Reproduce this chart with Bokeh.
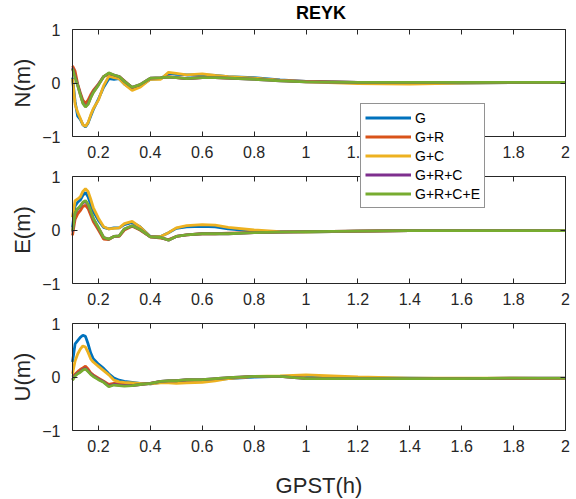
import math
from bokeh.plotting import figure
from bokeh.models import Range1d, LinearAxis, FixedTicker, Label, Legend, LegendItem
from bokeh.embed import file_html
from bokeh.resources import INLINE

# ---------------- data ----------------
time_h = [0.10, 0.11, 0.12, 0.13, 0.14, 0.15, 0.16, 0.17, 0.18, 0.20, 0.22, 0.24,
          0.26, 0.28, 0.30, 0.33, 0.36, 0.40, 0.44, 0.47, 0.50, 0.54, 0.60, 0.65,
          0.70, 0.80, 0.90, 1.00, 1.20, 1.40, 1.60, 1.80, 2.00]

N_G = [0.10, -0.35, -0.62, -0.68, -0.78, -0.82, -0.75, -0.62, -0.50, -0.30, -0.08, 0.08,
       0.07, 0.08, -0.02, -0.12, -0.06, 0.07, 0.08, 0.18, 0.16, 0.15, 0.15, 0.14,
       0.12, 0.10, 0.06, 0.03, 0.01, 0.00, 0.00, 0.01, 0.01]
N_GR = [0.32, 0.22, -0.02, -0.18, -0.32, -0.38, -0.32, -0.22, -0.14, -0.02, 0.12, 0.17,
        0.12, 0.12, 0.04, -0.09, -0.04, 0.08, 0.09, 0.12, 0.10, 0.08, 0.10, 0.10,
        0.09, 0.08, 0.05, 0.03, 0.01, 0.01, 0.01, 0.01, 0.01]
N_GC = [0.08, -0.40, -0.55, -0.66, -0.78, -0.81, -0.74, -0.60, -0.48, -0.32, -0.05, 0.13,
        0.10, 0.08, -0.02, -0.14, -0.08, 0.07, 0.07, 0.20, 0.18, 0.15, 0.17, 0.14,
        0.12, 0.09, 0.05, 0.02, -0.01, -0.02, 0.00, 0.01, 0.01]
N_GRC = [0.28, 0.12, -0.04, -0.21, -0.37, -0.44, -0.39, -0.27, -0.17, -0.03, 0.12, 0.18,
         0.15, 0.12, 0.03, -0.08, -0.03, 0.09, 0.10, 0.11, 0.10, 0.08, 0.10, 0.10,
         0.09, 0.07, 0.04, 0.02, 0.01, 0.01, 0.01, 0.01, 0.01]
N_GRCE = [0.27, 0.10, -0.05, -0.22, -0.38, -0.45, -0.40, -0.28, -0.18, -0.04, 0.12, 0.19,
          0.15, 0.12, 0.03, -0.08, -0.03, 0.09, 0.10, 0.11, 0.10, 0.08, 0.10, 0.10,
          0.09, 0.07, 0.04, 0.02, 0.01, 0.01, 0.01, 0.01, 0.01]

E_G = [0.05, 0.45, 0.52, 0.56, 0.65, 0.70, 0.62, 0.48, 0.35, 0.18, 0.05, 0.02,
       0.04, 0.04, 0.10, 0.14, 0.06, -0.12, -0.12, -0.05, 0.03, 0.06, 0.07, 0.06,
       0.02, -0.02, -0.03, -0.04, -0.02, -0.01, -0.01, -0.01, -0.01]
E_GR = [-0.10, 0.20, 0.30, 0.36, 0.44, 0.46, 0.40, 0.28, 0.16, 0.00, -0.17, -0.18,
        -0.12, -0.12, 0.00, 0.07, 0.00, -0.13, -0.15, -0.18, -0.12, -0.09, -0.07, -0.07,
        -0.06, -0.05, -0.04, -0.03, -0.02, -0.01, -0.01, -0.01, -0.01]
E_GC = [0.24, 0.55, 0.58, 0.62, 0.72, 0.77, 0.72, 0.58, 0.42, 0.22, 0.06, 0.02,
        0.03, 0.04, 0.12, 0.16, 0.06, -0.13, -0.12, -0.05, 0.04, 0.08, 0.10, 0.09,
        0.05, 0.00, -0.03, -0.04, -0.02, -0.01, -0.01, -0.01, -0.01]
E_GRC = [-0.03, 0.31, 0.39, 0.44, 0.51, 0.54, 0.47, 0.35, 0.21, 0.04, -0.14, -0.17,
         -0.12, -0.11, 0.02, 0.08, 0.01, -0.13, -0.14, -0.19, -0.12, -0.09, -0.07, -0.07,
         -0.07, -0.05, -0.04, -0.03, -0.02, -0.01, -0.01, -0.01, -0.01]
E_GRCE = [-0.02, 0.32, 0.40, 0.45, 0.52, 0.55, 0.48, 0.36, 0.22, 0.05, -0.14, -0.17,
          -0.12, -0.11, 0.02, 0.08, 0.01, -0.13, -0.14, -0.19, -0.12, -0.09, -0.07, -0.07,
          -0.07, -0.05, -0.04, -0.03, -0.02, -0.01, -0.01, -0.01, -0.01]

U_G = [0.28, 0.62, 0.68, 0.74, 0.78, 0.76, 0.62, 0.45, 0.34, 0.24, 0.16, 0.06,
       -0.02, -0.06, -0.08, -0.10, -0.12, -0.13, -0.10, -0.08, -0.08, -0.07, -0.06, -0.05,
       -0.03, 0.00, 0.01, 0.00, -0.02, -0.02, -0.03, -0.03, -0.03]
U_GR = [0.00, 0.05, 0.10, 0.14, 0.17, 0.20, 0.15, 0.08, 0.04, -0.02, -0.08, -0.14,
        -0.12, -0.13, -0.14, -0.15, -0.14, -0.12, -0.08, -0.08, -0.07, -0.06, -0.06, -0.04,
        -0.02, 0.01, 0.01, -0.02, -0.03, -0.03, -0.03, -0.03, -0.03]
U_GC = [0.06, 0.30, 0.43, 0.52, 0.58, 0.56, 0.46, 0.34, 0.28, 0.20, 0.12, 0.04,
        -0.06, -0.09, -0.10, -0.11, -0.12, -0.13, -0.11, -0.11, -0.12, -0.11, -0.10, -0.07,
        -0.03, 0.01, 0.02, 0.04, 0.00, -0.02, -0.02, -0.02, -0.03]
U_GRC = [-0.05, 0.03, 0.07, 0.10, 0.14, 0.16, 0.11, 0.06, 0.02, -0.04, -0.09, -0.17,
         -0.14, -0.15, -0.16, -0.16, -0.14, -0.12, -0.08, -0.07, -0.07, -0.05, -0.05, -0.03,
         -0.01, 0.01, 0.01, -0.03, -0.03, -0.03, -0.03, -0.02, -0.02]
U_GRCE = [-0.06, 0.02, 0.06, 0.09, 0.13, 0.15, 0.10, 0.05, 0.01, -0.05, -0.10, -0.18,
          -0.15, -0.16, -0.17, -0.16, -0.14, -0.12, -0.08, -0.07, -0.07, -0.05, -0.05, -0.03,
          -0.01, 0.01, 0.01, -0.03, -0.03, -0.03, -0.03, -0.02, -0.02]

series_names = ["G", "G+R", "G+C", "G+R+C", "G+R+C+E"]
series_colors = ["#0072BD", "#D95319", "#EDB120", "#7E2F8E", "#77AC30"]
panel_keys = ["N", "E", "U"]
panel_labels = ["N(m)", "E(m)", "U(m)"]
panel_series = {
    "N": [N_G, N_GR, N_GC, N_GRC, N_GRCE],
    "E": [E_G, E_GR, E_GC, E_GRC, E_GRCE],
    "U": [U_G, U_GR, U_GC, U_GRC, U_GRCE],
}
x_ticks = [0.2, 0.4, 0.6, 0.8, 1.0, 1.2, 1.4, 1.6, 1.8, 2.0]
x_tick_labels = ["0.2", "0.4", "0.6", "0.8", "1", "1.2", "1.4", "1.6", "1.8", "2"]
y_ticks = [-1, 0, 1]
x_lim = (0.1, 2.0)
y_lim = (-1.0, 1.0)
title_text = "REYK"
x_label = "GPST(h)"

# ---------------- layout (pixels) ----------------
FONT = "Liberation Sans"
INK = "#262626"
W, H = 576, 499
PX_LEFT, PX_RIGHT, PX_TOP = 72, 565, 29
PANEL_H, GAP = 107, 40

x_upp = (x_lim[1] - x_lim[0]) / (PX_RIGHT - PX_LEFT)
p = figure(width=W, height=H, output_backend="svg", toolbar_location=None,
           x_range=Range1d(x_lim[0] - PX_LEFT * x_upp, x_lim[1] + (W - PX_RIGHT) * x_upp),
           y_range=Range1d(0, H),
           x_axis_location=None, y_axis_location=None, min_border=0)
p.outline_line_color = None
p.xgrid.grid_line_color = None
p.ygrid.grid_line_color = None
p.background_fill_color = "white"
p.border_fill_color = "white"

y_upp = (y_lim[1] - y_lim[0]) / PANEL_H
for k, key in enumerate(panel_keys):
    top_px = PX_TOP + k * (PANEL_H + GAP)
    bottom_from_bottom = H - (top_px + PANEL_H)
    start = y_lim[0] - bottom_from_bottom * y_upp
    p.extra_y_ranges[key] = Range1d(start, start + H * y_upp)

x_overrides = dict(zip(x_ticks, x_tick_labels))


def style_axis(ax, labels):
    ax.axis_line_color = INK
    ax.axis_line_width = 1
    ax.major_tick_line_color = INK
    ax.major_tick_in = 5
    ax.major_tick_out = 0
    ax.minor_tick_line_color = None
    ax.major_label_text_font = FONT
    ax.major_label_text_font_size = "16px"
    ax.major_label_text_color = INK if labels else None


legend_renderers = []
for k, key in enumerate(panel_keys):
    for name, color, vals in zip(series_names, series_colors, panel_series[key]):
        r = p.line(time_h, vals, y_range_name=key, line_color=color, line_width=2.8)
        if key == "N":
            legend_renderers.append((name, r))

    left = LinearAxis(y_range_name=key, fixed_location=x_lim[0], bounds=y_lim,
                      ticker=FixedTicker(ticks=y_ticks))
    style_axis(left, True)
    left.major_label_standoff = 12
    p.add_layout(left, "left")

    right = LinearAxis(y_range_name=key, fixed_location=x_lim[1], bounds=y_lim,
                       ticker=FixedTicker(ticks=y_ticks))
    style_axis(right, False)
    p.add_layout(right, "right")

    below = LinearAxis(y_range_name=key, fixed_location=y_lim[0], bounds=x_lim,
                       ticker=FixedTicker(ticks=x_ticks), major_label_overrides=x_overrides)
    style_axis(below, True)
    below.major_label_standoff = 9
    p.add_layout(below, "below")

    above = LinearAxis(y_range_name=key, fixed_location=y_lim[1], bounds=x_lim,
                       ticker=FixedTicker(ticks=x_ticks))
    style_axis(above, False)
    p.add_layout(above, "above")

    p.add_layout(Label(x=x_lim[0], y=0, y_range_name=key, x_offset=-50,
                       text=panel_labels[k], angle=math.pi / 2,
                       text_align="center", text_baseline="middle",
                       text_font=FONT, text_font_size="22px", text_color=INK))

x_mid = (x_lim[0] + x_lim[1]) / 2
p.add_layout(Label(x=x_mid, y=y_lim[1], y_range_name="N", x_offset=2, y_offset=17,
                   text=title_text, text_align="center", text_baseline="middle",
                   text_font=FONT, text_font_size="18px", text_font_style="bold",
                   text_color="black"))
p.add_layout(Label(x=x_mid, y=y_lim[0], y_range_name="U", y_offset=-55,
                   text=x_label, text_align="center", text_baseline="alphabetic",
                   text_font=FONT, text_font_size="22px", text_color=INK))

legend = Legend(items=[LegendItem(label=n, renderers=[r]) for n, r in legend_renderers],
                location=(360, H - 208), orientation="vertical")
legend.label_text_font = FONT
legend.label_text_font_size = "14px"
legend.label_text_color = "black"
legend.label_height = 19
legend.glyph_height = 19
legend.glyph_width = 46
legend.label_standoff = 4
legend.spacing = 0
legend.padding = 4
legend.margin = 0
legend.border_line_color = INK
legend.border_line_width = 1
legend.background_fill_color = "white"
legend.background_fill_alpha = 1
p.add_layout(legend, "center")

open("out.html", "w").write(file_html(p, INLINE))
